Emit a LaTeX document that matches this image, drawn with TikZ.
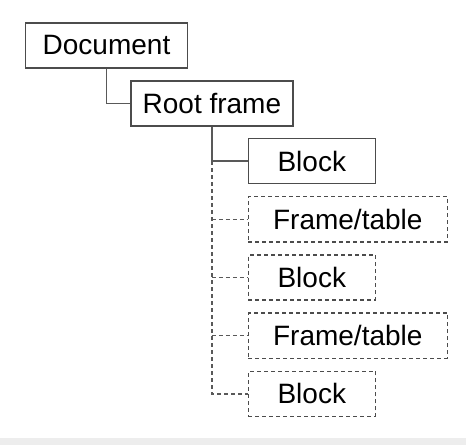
\documentclass[tikz,border=0pt]{standalone}
\usepackage{fontspec}
\setmainfont{Liberation Sans}
\usetikzlibrary{positioning}

\begin{document}
\begin{tikzpicture}[x=0.5pt, y=-0.5pt, font=\fontsize{14pt}{16pt}\selectfont, node distance=5.8pt]
  \tikzset{
    box/.style={rectangle, draw=black!70, line width=0.7pt, inner sep=0pt, minimum height=22.6pt, text centered},
    wide/.style={box, minimum width=81pt},
    blockbox/.style={box, minimum width=63.5pt},
    framebox/.style={box, minimum width=99.5pt},
    opt/.style={dash pattern=on 2pt off 1.5pt},
    link/.style={draw=black!65, line width=0.7pt}
  }

  % background and bottom strip
  \fill[white] (0,0) rectangle (466,445);
  \fill[black!7] (0,438) rectangle (466,445);
  \useasboundingbox (0,0) rectangle (466,445);

  \node[wide] (doc) at (106.5,45.5) {Document};
  \node[wide] (root) [below right=5.7pt and -29pt of doc] {Root frame};

  \node[blockbox] (blk1) [below right=5.45pt and -23pt of root] {Block};
  \node[framebox, opt] (frm1) [below=of blk1.south west, anchor=north west] {Frame/table};
  \node[blockbox, opt] (blk2) [below=of frm1.south west, anchor=north west] {Block};
  \node[framebox, opt] (frm2) [below=of blk2.south west, anchor=north west] {Frame/table};
  \node[blockbox, opt] (blk3) [below=of frm2.south west, anchor=north west] {Block};

  \path[link] (doc.south) |- (root.west);
  \path[link] (root.south) |- (blk1.west);
  \path[link, opt] (root.south |- blk1.west) |- (blk3.west);
  \path[link, opt] (root.south |- frm1.west) -- (frm1.west);
  \path[link, opt] (root.south |- blk2.west) -- (blk2.west);
  \path[link, opt] (root.south |- frm2.west) -- (frm2.west);

\end{tikzpicture}
\end{document}
